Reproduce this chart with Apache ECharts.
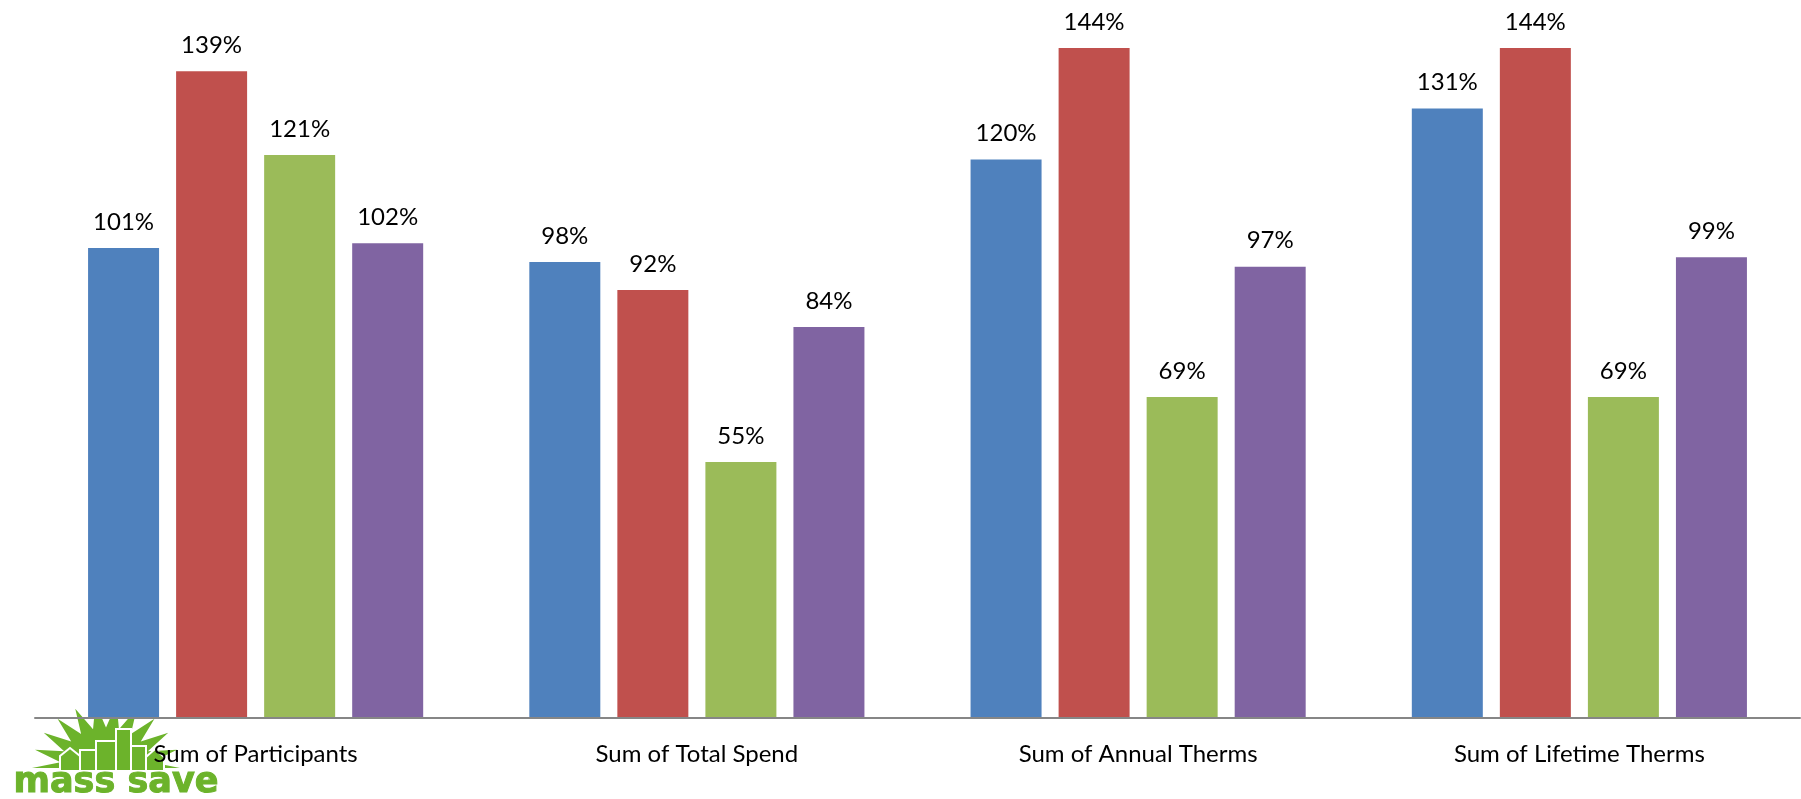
<!DOCTYPE html>
<html>
<head>
<meta charset="utf-8">
<script src="https://cdn.jsdelivr.net/npm/echarts@6/dist/echarts.min.js"></script>
<style>
html,body{margin:0;padding:0;background:#fff;}
#chart{width:1801px;height:799px;}
</style>
</head>
<body>
<div id="chart"></div>
<script>
var categories = ['Sum of Participants', 'Sum of Total Spend', 'Sum of Annual Therms', 'Sum of Lifetime Therms'];
var seriesBlue = [101, 98, 120, 131];
var seriesRed = [139, 92, 144, 144];
var seriesGreen = [121, 55, 69, 69];
var seriesPurple = [102, 84, 97, 99];
var seriesNames = ['Series 1', 'Series 2', 'Series 3', 'Series 4'];
var colors = ['#4F81BD', '#C0504D', '#9BBB59', '#8064A2'];

var chart = echarts.init(document.getElementById('chart'));
var fontFamily = 'Lato, "Noto Sans", sans-serif';

function mkSeries(name, data, color) {
  return {
    name: name,
    type: 'bar',
    data: data,
    barWidth: 71,
    barGap: '24%',
    itemStyle: { color: color },
    label: {
      show: true,
      position: 'top',
      distance: 14,
      formatter: '{c}%',
      color: '#000',
      fontSize: 24,
      fontFamily: fontFamily
    },
    z: 2
  };
}

// decorative logo (starburst + skyline + wordmark)
var green = '#6cb32b';
var cx = 106, cy = 768;
var pts = [];
var n = 11;
for (var i = 0; i <= n * 2; i++) {
  var a = Math.PI + (Math.PI * i) / (n * 2);
  var r = (i % 2 === 0) ? 74 : 46;
  pts.push([cx + r * Math.cos(a) * 1.0, cy + r * Math.sin(a) * 0.88]);
}

var logo = [
  { type: 'polygon', shape: { points: pts }, style: { fill: green }, z: 0 },
  { type: 'polygon', shape: { points: [[60,772],[60,756],[70,748],[80,756],[80,772]] }, style: { fill: green, stroke: '#fff', lineWidth: 2 }, z: 1 },
  { type: 'rect', shape: { x: 80, y: 750, width: 16, height: 22 }, style: { fill: green, stroke: '#fff', lineWidth: 2 }, z: 1 },
  { type: 'rect', shape: { x: 96, y: 741, width: 20, height: 31 }, style: { fill: green, stroke: '#fff', lineWidth: 2 }, z: 1 },
  { type: 'rect', shape: { x: 116, y: 729, width: 15, height: 43 }, style: { fill: green, stroke: '#fff', lineWidth: 2 }, z: 1 },
  { type: 'rect', shape: { x: 131, y: 746, width: 15, height: 26 }, style: { fill: green, stroke: '#fff', lineWidth: 2 }, z: 1 },
  { type: 'polygon', shape: { points: [[146,772],[146,757],[155,749],[164,757],[164,772]] }, style: { fill: green, stroke: '#fff', lineWidth: 2 }, z: 1 },
  { type: 'rect', shape: { x: 25, y: 770, width: 180, height: 6 }, style: { fill: '#fff' }, z: 1 },
  { type: 'text', left: 13, top: 765, style: { text: 'mass save', fill: green, font: 'bold 35px "DejaVu Sans", sans-serif', stroke: green, lineWidth: 1 }, z: 2 },
  { type: 'text', left: 207, top: 776, style: { text: '®', fill: green, font: '7px "DejaVu Sans", sans-serif' }, z: 2 }
];

var option = {
  backgroundColor: '#fff',
  animation: false,
  color: colors,
  graphic: logo,
  grid: { left: 35, right: 1, top: 20, bottom: 81, containLabel: false },
  xAxis: {
    type: 'category',
    data: categories,
    z: 10,
    axisLine: { show: true, lineStyle: { color: '#868686', width: 2 } },
    axisTick: { show: false },
    axisLabel: { margin: 24, color: '#000', fontSize: 24, fontFamily: fontFamily, interval: 0 },
    splitLine: { show: false }
  },
  yAxis: {
    type: 'value',
    min: 0,
    max: 150,
    interval: 10,
    show: false,
    splitLine: { show: false }
  },
  series: [
    mkSeries(seriesNames[0], seriesBlue, colors[0]),
    mkSeries(seriesNames[1], seriesRed, colors[1]),
    mkSeries(seriesNames[2], seriesGreen, colors[2]),
    mkSeries(seriesNames[3], seriesPurple, colors[3])
  ]
};
chart.setOption(option);
</script>
</body>
</html>
